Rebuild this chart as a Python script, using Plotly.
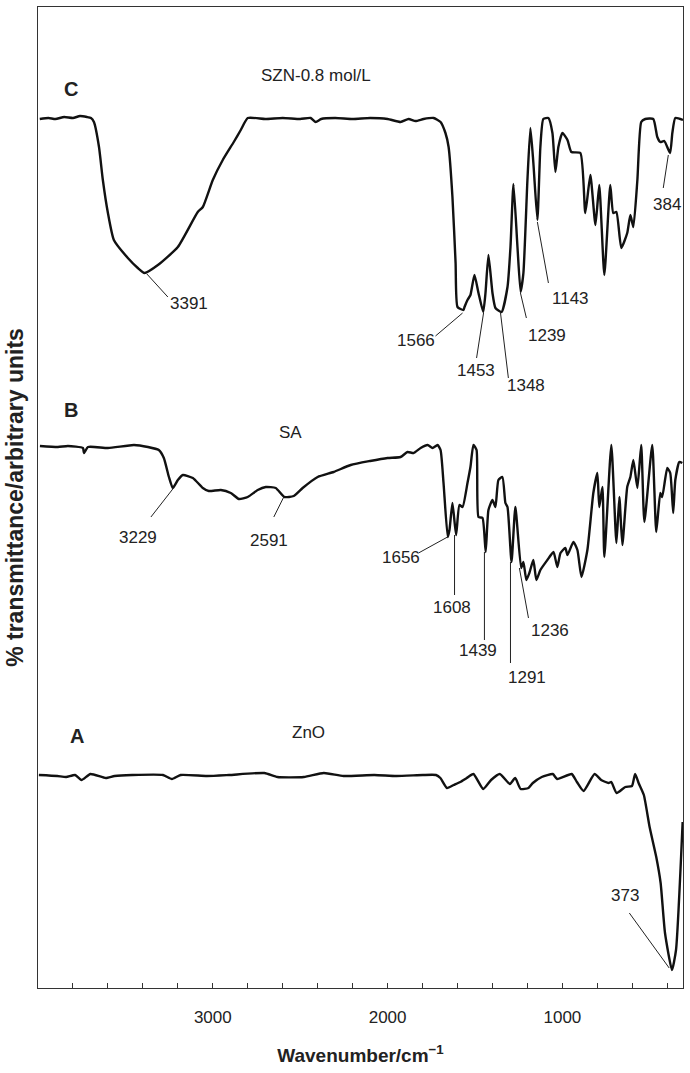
import plotly.graph_objects as go

# ---------------- data (wavenumber in cm-1, transmittance in arbitrary units) ----------------
C_wn = [3990, 3940, 3900, 3850, 3800, 3760, 3720, 3697, 3680, 3651, 3629, 3600, 3566, 3486, 3429, 3391,
        3314, 3200, 3086, 3057, 3000, 2943, 2880, 2840, 2800, 2700, 2600, 2500, 2440, 2411, 2380, 2300,
        2200, 2100, 2000, 1926, 1880, 1840, 1794, 1737, 1697, 1669, 1651, 1629, 1611, 1600, 1566, 1560,
        1543, 1526, 1503, 1480, 1453, 1440, 1423, 1400, 1383, 1348, 1314, 1297, 1280, 1257, 1239, 1223,
        1200, 1183, 1166, 1143, 1126, 1109, 1080, 1057, 1040, 1023, 1000, 971, 949, 897, 869, 840, 811,
        789, 760, 726, 709, 691, 663, 629, 611, 594, 571, 549, 526, 480, 457, 440, 417, 384, 371, 354, 310]
C_T = [881, 882, 881, 883, 882, 884, 883, 882, 878, 853, 820, 787, 760, 742, 732, 727,
       735, 753, 788, 793, 820, 840, 858, 870, 882, 881, 882, 881, 882, 878, 881, 882,
       881, 882, 881, 878, 881, 879, 881, 882, 878, 867, 853, 803, 737, 693, 690, 693,
       700, 705, 725, 707, 688, 707, 745, 707, 692, 688, 713, 753, 816, 753, 708, 727,
       820, 872, 837, 780, 853, 881, 882, 867, 828, 853, 867, 860, 848, 847, 787, 825, 775,
       815, 725, 815, 787, 788, 752, 767, 785, 773, 820, 878, 881, 881, 863, 858, 859, 847, 867, 882, 880]

B_wn = [3989, 3886, 3829, 3743, 3737, 3714, 3600, 3451, 3371, 3309, 3280, 3251, 3229, 3200, 3171, 3114,
        3057, 3023, 2954, 2897, 2851, 2800, 2743, 2697, 2640, 2591, 2537, 2486, 2400, 2309, 2211, 2100,
        2000, 1926, 1886, 1851, 1811, 1771, 1743, 1714, 1697, 1680, 1656, 1646, 1629, 1608, 1589, 1571,
        1543, 1526, 1509, 1491, 1480, 1457, 1439, 1423, 1400, 1383, 1366, 1343, 1326, 1314, 1291, 1269,
        1236, 1223, 1206, 1189, 1166, 1149, 1126, 1086, 1051, 1029, 1011, 983, 971, 937, 914, 891, 857,
        823, 800, 789, 771, 760, 720, 691, 674, 657, 629, 611, 594, 571, 549, 531, 486, 463, 440, 429,
        400, 383, 366, 354, 331, 314]
B_T = [554, 553, 554, 552, 547, 553, 552, 555, 553, 550, 542, 523, 512, 520, 525, 522,
       512, 509, 510, 507, 501, 503, 510, 513, 512, 503, 504, 512, 523, 528, 535, 539,
       542, 543, 548, 547, 552, 555, 552, 555, 550, 517, 463, 470, 497, 465, 495, 493,
       517, 533, 555, 550, 483, 482, 448, 490, 500, 493, 520, 523, 497, 493, 438, 493,
       432, 438, 420, 427, 440, 420, 430, 440, 448, 433, 447, 452, 445, 458, 450, 423, 450,
       507, 527, 493, 513, 443, 555, 457, 503, 455, 513, 523, 540, 512, 555, 478, 555, 468, 507, 503,
       532, 527, 487, 520, 538, 537]

A_wn = [3995, 3889, 3839, 3788, 3751, 3700, 3612, 3562, 3461, 3285, 3234, 3184, 3033, 2907, 2705, 2630,
        2479, 2365, 2252, 2076, 1950, 1798, 1723, 1698, 1660, 1622, 1584, 1547, 1509, 1453, 1408, 1358,
        1300, 1270, 1239, 1194, 1169, 1118, 1055, 1030, 947, 917, 879, 816, 778, 736, 720, 690, 640,
        602, 584, 564, 534, 501, 463, 438, 413, 373, 350, 312]
A_T = [225, 224, 223, 225, 220, 226, 222, 224, 225, 225, 221, 225, 224, 225, 227, 223,
       223, 227, 224, 225, 224, 225, 225, 222, 212, 215, 218, 222, 226, 211, 220, 226,
       216, 222, 211, 212, 217, 223, 226, 221, 226, 218, 209, 226, 220, 217, 218, 207, 213,
       214, 226, 217, 205, 173, 143, 117, 67, 30, 50, 178]

x_ticks = [3000, 2000, 1000]
x_tick_text = ["3000", "2000", "1000"]

# peak labels: text, label position (wn, T), leader start (wn, T), leader end at band (wn, T)
peak_labels = [
    ("3391", 3137, 697, 3257, 703, 3377, 726),
    ("1566", 1840, 660, 1726, 664, 1571, 687),
    ("1453", 1497, 630, 1491, 642, 1451, 687),
    ("1348", 1211, 615, 1309, 622, 1354, 687),
    ("1239", 1086, 665, 1206, 682, 1240, 707),
    ("1143", 954, 702, 1080, 717, 1143, 778),
    ("384", 400, 796, 423, 812, 394, 845),
    ("3229", 3429, 463, 3354, 483, 3229, 511),
    ("2591", 2680, 460, 2651, 483, 2594, 503),
    ("1656", 1926, 443, 1823, 447, 1657, 463),
    ("1608", 1629, 393, 1617, 405, 1617, 465),
    ("1439", 1480, 350, 1446, 360, 1446, 448),
    ("1291", 1200, 323, 1297, 337, 1297, 438),
    ("1236", 1069, 370, 1194, 382, 1246, 432),
    ("373", 640, 105, 617, 87, 389, 32),
]
panel_letters = [("C", 3811, 911), ("B", 3811, 590), ("A", 3777, 264)]
sample_names = [("SZN-0.8 mol/L", 2411, 925), ("SA", 2554, 568), ("ZnO", 2451, 268)]

FONT = "Liberation Sans, Arial, Helvetica, sans-serif"
LINE = "#111111"

fig = go.Figure()
for wn, tr in [(A_wn, A_T), (B_wn, B_T), (C_wn, C_T)]:
    assert len(wn) == len(tr)
    fig.add_trace(go.Scatter(x=wn, y=tr, mode="lines",
                             line=dict(color=LINE, width=2.4, shape="spline", smoothing=0.5),
                             showlegend=False, hoverinfo="skip"))

annotations = []
shapes = []
for txt, lx, ly, x0, y0, x1, y1 in peak_labels:
    annotations.append(dict(x=lx, y=ly, text=txt, showarrow=False, xref="x", yref="y",
                            font=dict(family=FONT, size=17, color="#222")))
    shapes.append(dict(type="line", xref="x", yref="y", x0=x0, y0=y0, x1=x1, y1=y1,
                       line=dict(color="#222", width=1)))
for txt, lx, ly in panel_letters:
    annotations.append(dict(x=lx, y=ly, text="<b>%s</b>" % txt, showarrow=False,
                            font=dict(family=FONT, size=20, color="#222")))
for txt, lx, ly in sample_names:
    annotations.append(dict(x=lx, y=ly, text=txt, showarrow=False,
                            font=dict(family=FONT, size=17, color="#222")))

fig.update_layout(
    width=690, height=1073,
    margin=dict(l=38, r=7, t=7, b=85),
    paper_bgcolor="white", plot_bgcolor="white",
    annotations=annotations, shapes=shapes,
    font=dict(family=FONT, color="#222"),
    hovermode=False,
)
fig.update_xaxes(range=[4000, 310], showgrid=False, zeroline=False, automargin=False,
                 showline=True, mirror=True, linecolor="#333", linewidth=1,
                 tickvals=x_ticks, ticktext=x_tick_text, ticks="inside", ticklen=5,
                 tickcolor="#333", tickfont=dict(family=FONT, size=17, color="#222"),
                 ticklabelstandoff=14,
                 minor=dict(dtick=200, ticks="inside", ticklen=5, tickcolor="#333", showgrid=False),
                 title=dict(text="<b>Wavenumber/cm<sup>−1</sup></b>", standoff=22,
                            font=dict(family=FONT, size=19, color="#222")))
fig.update_yaxes(range=[12, 993], showgrid=False, zeroline=False, automargin=False,
                 showline=True, mirror=True, linecolor="#333", linewidth=1,
                 showticklabels=False, ticks="",
                 title=dict(text="<b>% transmittance/arbitrary units</b>", standoff=6,
                            font=dict(family=FONT, size=23, color="#222")))

fig.write_html("out.html", config={"displayModeBar": False, "staticPlot": True},
               post_script="document.body.style.margin='0px';document.body.style.overflow='hidden';")
